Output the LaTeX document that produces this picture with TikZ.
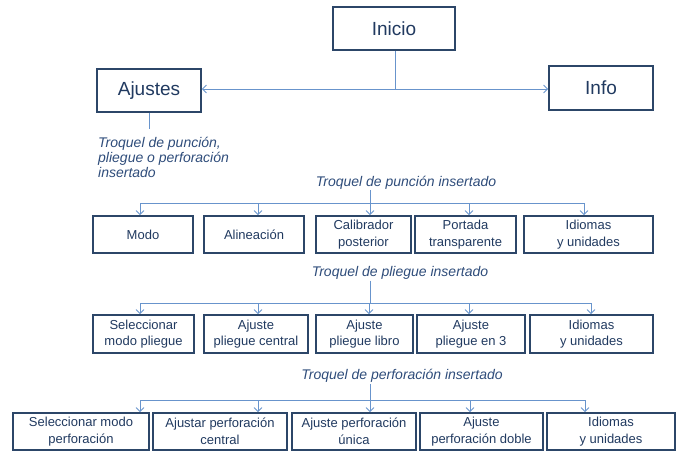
\documentclass[tikz,border=0pt]{standalone}
\usepackage{fontspec}
\setmainfont{Liberation Sans}
\usetikzlibrary{arrows.meta}
\definecolor{boxline}{RGB}{44,70,104}
\definecolor{boxtext}{RGB}{33,58,96}
\definecolor{linkblue}{RGB}{104,148,204}
\definecolor{lbltext}{RGB}{46,76,122}

\begin{document}
\begin{tikzpicture}[x=1pt, y=-1pt,
      every node/.style={font=\fontsize{13}{16.5}\selectfont},
      topbox/.style={
        rectangle, draw=boxline, line width=1.6pt, fill=white,
        text=boxtext, minimum width=104, minimum height=43,
        font=\fontsize{19}{22}\selectfont
      },
      itembox/.style={
        rectangle, draw=boxline, line width=1.6pt, fill=white,
        text=boxtext, align=center, inner sep=0pt, minimum height=37
      },
      lbl/.style={
        font=\fontsize{14}{15}\selectfont\itshape, text=lbltext,
        align=left, inner sep=1pt
      },
      line/.style={draw=linkblue, line width=0.9pt},
      arr/.style={line, -{Straight Barb[length=4pt, width=8pt]}}
    ]
    \useasboundingbox (0,0) rectangle (680,451);

    % ===== Top: start screen and its two menus =====
    \node[topbox, minimum width=122] (inicio) at (394, 28.5) {Inicio};
    \node[topbox] (ajustes) at (149, 90.5) {Ajustes};
    \node[topbox, minimum height=44] (info) at (601, 88) {Info};
    \coordinate (hub) at (395, 89);

    \draw[line] (inicio.south -| hub) -- (hub);
    \draw[arr] (hub) -- (ajustes.east |- hub);
    \draw[arr] (hub) -- (info.west |- hub);

    \node[lbl, anchor=north west] (ajlbl) at (97, 136)
      {Troquel de punción,\\ pliegue o perforación\\ insertado};
    \draw[line, shorten >=7] (ajustes.south) -- (ajustes.south |- ajlbl.north);

    % ===== Row 1: punch die =====
    \node[lbl] (lbl1) at (406, 182.5) {Troquel de punción insertado};
    \coordinate (bus1) at (370, 203);
    \node[itembox, minimum width=100] (modo) at (143, 234.5) {Modo};
    \node[itembox, minimum width=100] (alin) at (254, 234.5) {Alineación};
    \node[itembox, minimum width=95] (calib) at (363.5, 234.5) {Calibrador\\ posterior};
    \node[itembox, minimum width=101] (portada) at (465.5, 234.5) {Portada\\ transparente};
    \node[itembox, minimum width=129] (idiom1) at (588.5, 234.5) {Idiomas\\ y unidades};

    \draw[line] (lbl1.south -| bus1) -- (bus1);
    \draw[line] (140,0 |- bus1) -- (584,0 |- bus1);
    \foreach \n/\x in {modo/140, alin/258, calib/370, portada/469, idiom1/584}
      \draw[arr] (\x,0 |- bus1) -- (\x,0 |- \n.north);

    % ===== Row 2: crease die =====
    \node[lbl] (lbl2) at (400, 273) {Troquel de pliegue insertado};
    \coordinate (bus2) at (370, 303);
    \node[itembox, minimum width=101, minimum height=38] (selpl) at (143.5, 334) {Seleccionar\\ modo pliegue};
    \node[itembox, minimum width=104, minimum height=38] (ajcen) at (256, 334) {Ajuste\\ pliegue central};
    \node[itembox, minimum width=97, minimum height=38] (ajlib) at (364.5, 334) {Ajuste\\ pliegue libro};
    \node[itembox, minimum width=108, minimum height=38] (aj3) at (471, 334) {Ajuste\\ pliegue en 3};
    \node[itembox, minimum width=123, minimum height=38] (idiom2) at (591.5, 334) {Idiomas\\ y unidades};

    \draw[line] (lbl2.south -| bus2) -- (bus2);
    \draw[line] (140,0 |- bus2) -- (591,0 |- bus2);
    \foreach \n/\x in {selpl/140, ajcen/258, ajlib/369, aj3/469, idiom2/591}
      \draw[arr] (\x,0 |- bus2) -- (\x,0 |- \n.north);

    % ===== Row 3: perforation die =====
    \node[lbl] (lbl3) at (402, 376) {Troquel de perforación insertado};
    \coordinate (bus3) at (370, 400);
    \node[itembox, minimum width=136] (selpf) at (81, 431.5) {Seleccionar modo\\ perforación};
    \node[itembox, minimum width=134] (ajpfc) at (220, 431.5) {Ajustar perforación\\ central};
    \node[itembox, minimum width=124] (ajpfu) at (354, 431.5) {Ajuste perforación\\ única};
    \node[itembox, minimum width=123] (ajpfd) at (481.5, 431.5) {Ajuste\\ perforación doble};
    \node[itembox, minimum width=128] (idiom3) at (611, 431.5) {Idiomas\\ y unidades};

    \draw[line] (lbl3.south -| bus3) -- (bus3);
    \draw[line] (140,0 |- bus3) -- (585,0 |- bus3);
    \foreach \n/\x in {selpf/140, ajpfc/258, ajpfu/370, ajpfd/470, idiom3/585}
      \draw[arr] (\x,0 |- bus3) -- (\x,0 |- \n.north);
  \end{tikzpicture}
\end{document}
